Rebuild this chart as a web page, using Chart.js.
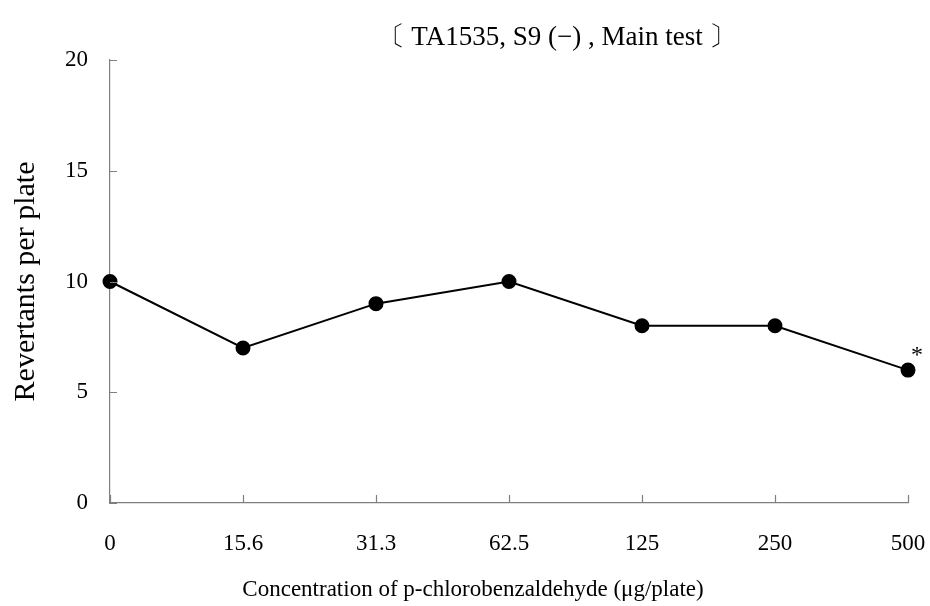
<!DOCTYPE html>
<html>
<head>
<meta charset="utf-8">
<script src="https://cdn.jsdelivr.net/npm/chart.js@4.4.0/dist/chart.umd.min.js"></script>
<style>
  html, body { margin: 0; padding: 0; background: #fff; }
  #wrap { width: 930px; height: 606px; position: relative; }
</style>
</head>
<body>
<div id="wrap"><canvas id="myChart"></canvas></div>
<script>
const concentrations = ['0', '15.6', '31.3', '62.5', '125', '250', '500']
const revertants = [10, 7, 9, 10, 8, 8, 6]
const significant = [false, false, false, false, false, false, true]
const yTicks = [0, 5, 10, 15, 20]

const chartTitle = '〔 TA1535, S9 (−) , Main test 〕'
const xTitle = 'Concentration of p-chlorobenzaldehyde (μg/plate)'
const yTitle = 'Revertants per plate'

const serif = '"Liberation Serif", "Times New Roman", serif'
const axisGrey = '#7f7f7f'

// inward tick marks, chart title, x title and asterisk
const extras = {
    id: 'extras',
    afterDraw(chart) {
        const ctx = chart.ctx
        const area = chart.chartArea
        const xs = chart.scales.x
        const ys = chart.scales.y
        ctx.save()
        ctx.strokeStyle = axisGrey
        ctx.lineWidth = 1.2
        ctx.beginPath()
        for (let i = 0; i < xs.ticks.length; i++) {
            const px = Math.round(xs.getPixelForTick(i)) + 0.5
            ctx.moveTo(px, area.bottom)
            ctx.lineTo(px, area.bottom - 8)
        }
        for (let i = 0; i < ys.ticks.length; i++) {
            const py = Math.round(ys.getPixelForTick(i)) + 0.5
            ctx.moveTo(area.left, py)
            ctx.lineTo(area.left + 7, py)
        }
        ctx.stroke()

        ctx.fillStyle = '#000'
        ctx.textAlign = 'center'
        ctx.textBaseline = 'alphabetic'
        ctx.font = '27px ' + serif
        ctx.fillText(chartTitle, area.left + 447, 45)

        ctx.font = '23px ' + serif
        ctx.fillText(xTitle, area.left + 363, 596)

        const meta = chart.getDatasetMeta(0)
        ctx.textBaseline = 'middle'
        ctx.font = '24px ' + serif
        for (let i = 0; i < significant.length; i++) {
            if (significant[i]) {
                const pt = meta.data[i]
                ctx.fillText('*', pt.x + 9, pt.y - 14)
            }
        }
        ctx.restore()
    }
}

const abc = document.getElementById('myChart')
const myChart = new Chart(abc, {
    type: 'line',
    data: {
        labels: concentrations,
        datasets: [{
            label: 'TA1535',
            data: revertants,
            borderColor: '#000',
            backgroundColor: '#000',
            borderWidth: 2,
            pointRadius: 6.5,
            pointHoverRadius: 6.5,
            pointBackgroundColor: '#000',
            pointBorderColor: '#000',
            tension: 0
        }]
    },
    options: {
        responsive: true,
        maintainAspectRatio: false,
        animation: false,
        layout: { padding: { top: 60, right: 22, left: 0, bottom: 0 } },
        plugins: {
            legend: { display: false },
            tooltip: { enabled: false }
        },
        scales: {
            x: {
                offset: false,
                grid: { display: false, drawTicks: false },
                border: { display: true, color: axisGrey, width: 1.2 },
                ticks: {
                    color: '#000',
                    font: { family: serif, size: 23 },
                    padding: 27,
                    maxRotation: 0,
                    autoSkip: false
                },
                afterFit(scale) {
                    scale.height = 103
                    scale.paddingLeft = 0
                    scale.paddingRight = 0
                }
            },
            y: {
                min: 0,
                max: 20,
                afterBuildTicks(scale) { scale.ticks = yTicks.map(v => ({ value: v })) },
                grid: { display: false, drawTicks: false },
                border: { display: true, color: axisGrey, width: 1.2 },
                ticks: {
                    color: '#000',
                    font: { family: serif, size: 23 },
                    padding: 22
                },
                title: {
                    display: true,
                    text: yTitle,
                    color: '#000',
                    font: { family: serif, size: 30 },
                    padding: { top: 8, bottom: 0 }
                },
                afterFit(scale) {
                    scale.width = 110
                    scale.paddingTop = 0
                    scale.paddingBottom = 0
                }
            }
        }
    },
    plugins: [extras]
})
</script>
</body>
</html>
